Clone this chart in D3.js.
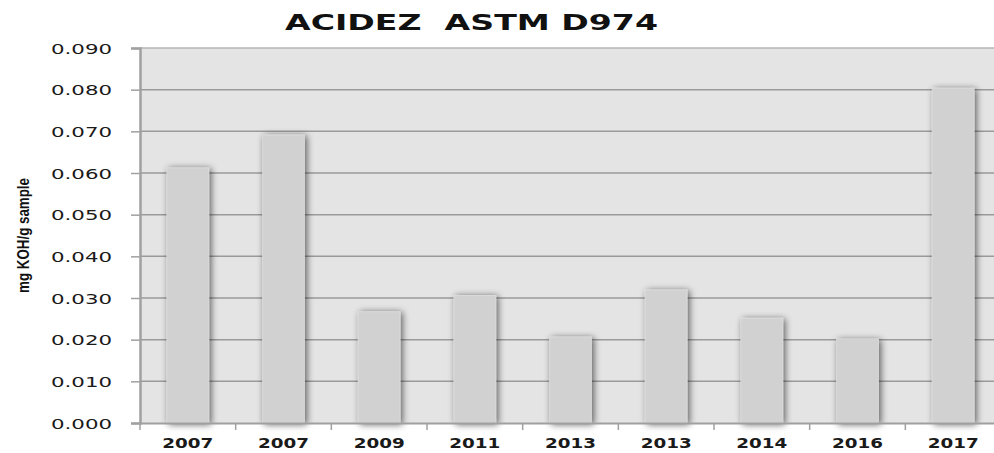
<!DOCTYPE html>
<html>
<head>
<meta charset="utf-8">
<script src="https://cdn.jsdelivr.net/npm/d3@7/dist/d3.min.js"></script>
<style>
  html, body { margin: 0; padding: 0; background: #fff; }
  svg { display: block; }
</style>
</head>
<body>
<svg id="chart" width="994" height="453"></svg>
<script>
// ---- data ----
const categories = ["2007", "2007 ", "2009", "2011", "2013", "2013 ", "2014", "2016", "2017"];
const values = [0.0612, 0.0691, 0.0267, 0.0306, 0.0206, 0.0319, 0.0251, 0.0201, 0.0803];
const yTicks = [0.000, 0.010, 0.020, 0.030, 0.040, 0.050, 0.060, 0.070, 0.080, 0.090];
const titleText = "ACIDEZ  ASTM D974";
const yTitleText = "mg KOH/g sample";

const svg = d3.select("#chart");
const mLeft = 140, mTop = 48, mBottom = 423, mRight = 1001;

const x = d3.scaleBand().domain(categories).range([mLeft, mRight])
  .paddingInner(0.565).paddingOuter(0.2825);
const y = d3.scaleLinear().domain([0, 0.09]).range([mBottom, mTop]);

// shadow filter
const defs = svg.append("defs");
const f = defs.append("filter").attr("id", "shadow")
  .attr("x", "-50%").attr("y", "-10%").attr("width", "200%").attr("height", "120%");
f.append("feGaussianBlur").attr("in", "SourceAlpha").attr("stdDeviation", 3.5).attr("result", "b");
f.append("feOffset").attr("in", "b").attr("dx", 1.5).attr("dy", 1).attr("result", "o");
f.append("feComponentTransfer").attr("in", "o").attr("result", "s")
  .append("feFuncA").attr("type", "linear").attr("slope", 0.6);
const mg = f.append("feMerge");
mg.append("feMergeNode").attr("in", "s");
mg.append("feMergeNode").attr("in", "SourceGraphic");

// plot background
svg.append("rect").attr("x", mLeft).attr("y", mTop)
  .attr("width", 994 - mLeft).attr("height", mBottom - mTop).attr("fill", "#e4e4e4");

// gridlines
svg.append("g").selectAll("line").data(yTicks.filter(d => d > 0)).join("line")
  .attr("x1", mLeft).attr("x2", 994)
  .attr("y1", d => y(d)).attr("y2", d => y(d))
  .attr("stroke", d => d === 0.09 ? "#b4b4b4" : "#9a9a9a").attr("stroke-width", 1.5);

// bars
svg.append("g").selectAll("rect").data(values).join("rect")
  .attr("x", (d, i) => x(categories[i]))
  .attr("y", d => y(d))
  .attr("width", x.bandwidth())
  .attr("height", d => mBottom - y(d))
  .attr("fill", "#d1d1d1")
  .attr("stroke", "#d9d9d9").attr("stroke-width", 1)
  .attr("filter", "url(#shadow)");

// y axis
const yAxis = svg.append("g").attr("transform", `translate(${mLeft},0)`)
  .call(d3.axisLeft(y).tickValues(yTicks).tickFormat(d3.format(".3f")).tickSize(9).tickPadding(19));
yAxis.select(".domain").attr("stroke", "#a0a0a0").attr("stroke-width", 2.5);
yAxis.selectAll(".tick line").attr("stroke", "#a0a0a0").attr("stroke-width", 1.5);
yAxis.selectAll(".tick text")
  .attr("font-family", "DejaVu Sans").attr("font-size", 14.5).attr("fill", "#1a1a1a")
  .attr("textLength", 61).attr("lengthAdjust", "spacingAndGlyphs")
  .attr("dy", "0.36em");

// x axis
const xAxis = svg.append("g").attr("transform", `translate(0,${mBottom})`)
  .call(d3.axisBottom(x).tickSize(0).tickPadding(15).tickFormat(d => d.trim()));
xAxis.select(".domain").attr("stroke", "#a0a0a0").attr("stroke-width", 2);
xAxis.selectAll(".tick text")
  .attr("font-family", "DejaVu Sans").attr("font-weight", "bold").attr("font-size", 13.5)
  .attr("fill", "#1a1a1a")
  .attr("textLength", 51).attr("lengthAdjust", "spacingAndGlyphs");
// band boundary tick marks
svg.append("g").selectAll("line").data(categories).join("line")
  .attr("x1", c => x(c) + x.bandwidth() / 2 - x.step() / 2)
  .attr("x2", c => x(c) + x.bandwidth() / 2 - x.step() / 2)
  .attr("y1", mBottom).attr("y2", mBottom + 7)
  .attr("stroke", "#a0a0a0").attr("stroke-width", 1.5);

// title
svg.append("text").attr("x", 471.5).attr("y", 30)
  .attr("text-anchor", "middle")
  .style("white-space", "pre")
  .attr("xml:space", "preserve")
  .attr("font-family", "DejaVu Sans").attr("font-weight", "bold").attr("font-size", 20.5)
  .attr("fill", "#111")
  .attr("textLength", 373).attr("lengthAdjust", "spacingAndGlyphs")
  .text(titleText);

// y title
svg.append("text")
  .attr("transform", "translate(29,235.5) rotate(-90) scale(1,1.35)")
  .attr("text-anchor", "middle")
  .attr("font-family", "Liberation Sans").attr("font-weight", "bold").attr("font-size", 12)
  .attr("fill", "#111")
  .attr("textLength", 115).attr("lengthAdjust", "spacingAndGlyphs")
  .text(yTitleText);
</script>
</body>
</html>
